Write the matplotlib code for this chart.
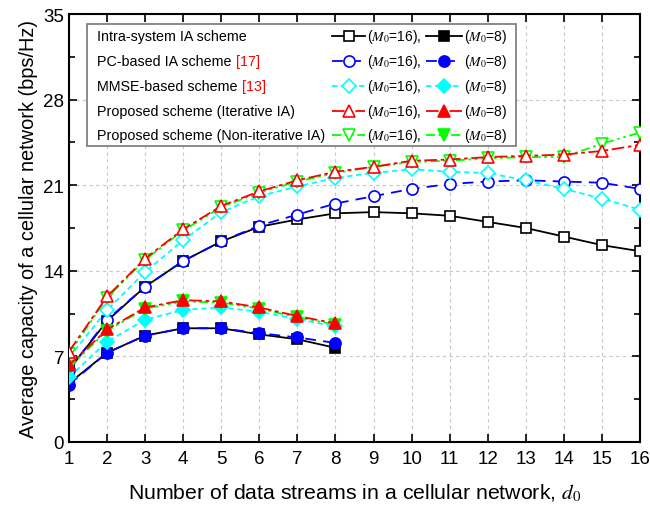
import numpy as np
import matplotlib
matplotlib.use('Agg')
import matplotlib.pyplot as plt
from matplotlib.lines import Line2D
from matplotlib.patches import Rectangle
from matplotlib.ticker import MultipleLocator

plt.rcParams['font.family'] = ['Liberation Sans', 'DejaVu Sans']
plt.rcParams['mathtext.fontset'] = 'stix'

# data
d16 = np.arange(1, 17)
d8 = np.arange(1, 9)

intra16 = [5.9, 9.9, 12.7, 14.8, 16.4, 17.6, 18.2, 18.7, 18.8, 18.7, 18.5, 18.0, 17.5, 16.8, 16.1, 15.6]
pc16 = [5.9, 10.0, 12.7, 14.8, 16.4, 17.7, 18.6, 19.5, 20.1, 20.7, 21.1, 21.3, 21.4, 21.3, 21.2, 20.7]
mmse16 = [6.9, 10.8, 13.9, 16.5, 18.8, 20.1, 20.9, 21.6, 22.0, 22.3, 22.1, 22.0, 21.4, 20.7, 19.9, 19.0]
prop16 = [7.4, 11.9, 15.0, 17.4, 19.3, 20.5, 21.4, 22.1, 22.5, 23.0, 23.1, 23.3, 23.4, 23.5, 23.8, 24.3]
nonit16 = [7.2, 11.8, 14.9, 17.3, 19.2, 20.4, 21.3, 22.0, 22.5, 22.9, 23.0, 23.2, 23.3, 23.3, 24.4, 25.3]

intra8 = [4.8, 7.3, 8.7, 9.3, 9.3, 8.8, 8.4, 7.7]
pc8 = [4.7, 7.3, 8.7, 9.3, 9.3, 8.9, 8.55, 8.1]
mmse8 = [5.3, 8.2, 10.0, 10.8, 11.0, 10.65, 10.05, 9.45]
prop8 = [6.3, 9.2, 11.0, 11.6, 11.5, 11.0, 10.3, 9.7]
nonit8 = [6.1, 9.1, 10.9, 11.5, 11.4, 10.9, 10.2, 9.6]

names = ['Intra-system IA scheme', 'PC-based IA scheme', 'MMSE-based scheme',
         'Proposed scheme (Iterative IA)', 'Proposed scheme (Non-iterative IA)']
refs = ['', ' [17]', ' [13]', '', '']
colors = ['black', 'blue', 'cyan', 'red', 'lime']
markers = ['s', 'o', 'D', '^', 'v']
msizes = [7, 8, 7, 8.5, 8.5]
styles = ['-', (0, (6, 4)), (0, (3, 2)), (0, (7, 2, 2, 2)), (0, (5, 2, 1.5, 2, 1.5, 2))]
series16 = [intra16, pc16, mmse16, prop16, nonit16]
series8 = [intra8, pc8, mmse8, prop8, nonit8]

fig = plt.figure(figsize=(6.5, 5.1), dpi=100)
left, right, bottom, top = 69, 640, 443, 15
ax = fig.add_axes([left / 650, 1 - bottom / 510, (right - left) / 650, (bottom - top) / 510])

order = [0, 1, 2, 4, 3]
for z, i in enumerate(order):
    kw = dict(color=colors[i], linestyle=styles[i], linewidth=1.3, marker=markers[i],
              markersize=msizes[i], markeredgewidth=1.2, zorder=3 + z)
    ax.plot(d16, series16[i], markerfacecolor='white', markeredgecolor=colors[i], **kw)
    ax.plot(d8, series8[i], markerfacecolor=colors[i], markeredgecolor=colors[i], **kw)

ax.set_xlim(1, 16)
ax.set_ylim(0, 35)
ax.xaxis.set_major_locator(MultipleLocator(1))
ax.yaxis.set_major_locator(MultipleLocator(7))
ax.yaxis.set_minor_locator(MultipleLocator(3.5))
ax.tick_params(which='both', direction='in', top=True, right=True, width=1.2)
ax.tick_params(which='major', length=6, labelsize=13.5)
ax.tick_params(which='minor', length=4)
ax.tick_params(axis='x', pad=6)
ax.grid(True, which='major', color='#c8c8c8', linestyle=(0, (3, 3)), linewidth=0.8)
ax.set_axisbelow(True)
for s in ax.spines.values():
    s.set_linewidth(1.5)

ax.set_xlabel(r'Number of data streams in a cellular network, $d_\mathrm{0}$', fontsize=15.3, labelpad=10)
ax.set_ylabel('Average capacity of a cellular network (bps/Hz)', fontsize=14.4, labelpad=4)

# legend drawn by hand: name on the left, samples to the right
def fx(px):
    return (px - left) / float(right - left)

def fy(py):
    return (bottom - py) / float(bottom - top)

ax.add_patch(Rectangle((fx(87), fy(147)), fx(516) - fx(87), fy(25) - fy(147),
                       transform=ax.transAxes, facecolor='white', edgecolor='#777777',
                       linewidth=1.2, zorder=20))
row_y = [37, 62, 87, 112, 136]
for i in range(5):
    y = fy(row_y[i])
    t = ax.text(fx(97), y, names[i], transform=ax.transAxes, fontsize=10.3,
                va='center', ha='left', zorder=21)
    if refs[i]:
        ax.annotate(refs[i], xy=(1, 0.5), xycoords=t, va='center', ha='left',
                    fontsize=10.3, color='red', zorder=21)
    for x0, x1, fill, lab in [(332, 365, 'white', r'($M_\mathrm{0}$=16),'),
                              (426, 462, colors[i], r'($M_\mathrm{0}$=8)')]:
        ax.add_line(Line2D([fx(x0), fx(x1)], [y, y], transform=ax.transAxes,
                           color=colors[i], linestyle=styles[i], linewidth=1.3, zorder=21))
        ax.add_line(Line2D([fx((x0 + x1) / 2)], [y], transform=ax.transAxes,
                           marker=markers[i], markersize=msizes[i], markerfacecolor=fill,
                           markeredgecolor=colors[i], markeredgewidth=1.2, zorder=22))
        ax.text(fx(x1 + 2), y, lab, transform=ax.transAxes, fontsize=10,
                va='center', ha='left', zorder=21)

fig.savefig('out.png', dpi=100)
